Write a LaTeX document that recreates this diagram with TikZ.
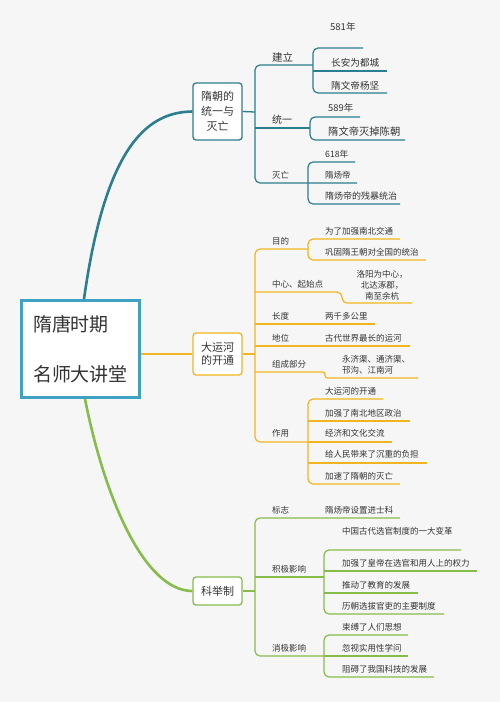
\documentclass[tikz,border=0pt]{standalone}
\usepackage{fontspec}
\setmainfont{Noto Sans CJK SC}
\usepackage{xcolor}

\definecolor{suiteal}{HTML}{2B7E8E}
\definecolor{rootblue}{HTML}{3FA2C2}
\definecolor{canalyel}{HTML}{F2B51E}
\definecolor{examgrn}{HTML}{86BC4A}
\definecolor{txtgray}{HTML}{333333}
\definecolor{bggray}{HTML}{F6F6F6}

\begin{document}
\begin{tikzpicture}[
    x=1pt, y=1pt, yscale=-1, xscale=1,
    every node/.style={inner sep=0pt, text=txtgray},
    lbl/.style={font=\fontsize{8.5}{11}\selectfont, anchor=west},
    secbox/.style={draw, line width=1.3, fill=white, rounded corners=3,
                   minimum width=49, align=center},
    twig/.style={line width=1.2, rounded corners=5}
]

\fill[bggray] (0,0) rectangle (500,702) ;
\useasboundingbox (0,0) rectangle (500,702) ;

%==================== Root ====================
\node [draw=rootblue, line width=3, fill=white, minimum width=118, minimum height=97,
       inner xsep=11.5, text width=95, align=left,
       font=\fontsize{19}{25}\selectfont] (root) at (80.5,349) {隋唐时期\\[25pt]名师大讲堂};

%==================== Section boxes ====================
\node [secbox, draw=suiteal, minimum height=57, font=\fontsize{11}{15}\selectfont]
      (sui) at (217.5,111.5) {隋朝的\\统一与\\灭亡};
\node [secbox, draw=canalyel, minimum height=42, font=\fontsize{11}{13.5}\selectfont]
      (canal) at (217.5,354) {大运河\\的开通};
\node [secbox, draw=examgrn, minimum height=28, font=\fontsize{11}{13}\selectfont]
      (keju) at (217.5,591) {科举制};

% main branches
\draw [suiteal, line width=2.6] ([xshift=3.5pt]root.north) .. controls (105,150) and (145,112) .. (sui.west) ;
\draw [canalyel, line width=2.8] (canal.west -| root.east) -- (canal.west) ;
\draw [examgrn, line width=2.6] ([xshift=4.5pt]root.south) .. controls (105,500) and (145,591) .. (keju.west) ;

%==================== Sui: rise and fall ====================
\draw [suiteal, line width=1.3] (sui.east) -- (255,112) ;
\draw [suiteal, twig] (313,65) -- (255,65) -- (255,183) -- (357,183) ;
\draw [suiteal, twig] (255,128) -- (310,128) ;
% jianli
\draw [suiteal, twig] (363,48) -- (313,48) -- (313,93) -- (387,93) ;
\draw [suiteal, twig] (313,71) -- (387,71) ;
% tongyi
\draw [suiteal, twig] (360,117) -- (310,117) -- (310,140) -- (405,140) ;
% miewang
\draw [suiteal, twig] (355,162) -- (308,162) -- (308,204) -- (400,204) ;

\node [lbl, font=\fontsize{10.5}{12}\selectfont] (jianli)  at (272,57)  {建立};
\node [lbl, font=\fontsize{10}{12}\selectfont]   (tongyi)  at (272,120) {统一};
\node [lbl]                                      (miewang) at (272,175) {灭亡};
\node [lbl, font=\fontsize{9.5}{11}\selectfont]  (y581)    at (330,27)  {581年};
\node [lbl, font=\fontsize{9.6}{11}\selectfont]  (capital) at (331,63)  {长安为都城};
\node [lbl, font=\fontsize{9.6}{11}\selectfont]  (yangjian) at (331,86) {隋文帝杨坚};
\node [lbl, font=\fontsize{9.4}{11}\selectfont]  (y589)    at (328,108) {589年};
\node [lbl, font=\fontsize{10.3}{12}\selectfont] (chen)    at (328,132) {隋文帝灭掉陈朝};
\node [lbl, font=\fontsize{8.7}{10}\selectfont]  (y618)    at (325,154) {618年};
\node [lbl]                                      (yangdi)  at (325,175) {隋炀帝};
\node [lbl, font=\fontsize{9}{11}\selectfont]    (tyranny) at (325,196) {隋炀帝的残暴统治};

%==================== Grand Canal ====================
\draw [canalyel, line width=1.3] (canal.east) -- (255,354) ;
\draw [canalyel, twig] (308,249) -- (255,249) -- (255,442) -- (308,442) ;
% mudi
\draw [canalyel, twig] (400,239) -- (308,239) -- (308,260) -- (426,260) ;
% zhongxin
\draw [canalyel, twig] (255,292) -- (342,292) -- (342,303) -- (412,303) ;
% changdu, diwei
\draw [canalyel, twig] (255,324) -- (375,324) ;
\draw [canalyel, twig] (255,346) -- (410,346) ;
% zucheng
\draw [canalyel, twig, rounded corners=2.5] (255,372) -- (325,372) -- (325,378) -- (418,378) ;
% zuoyong
\draw [canalyel, twig] (383,399) -- (308,399) -- (308,484) -- (400,484) ;
\draw [canalyel, twig] (308,421) -- (410,421) ;
\draw [canalyel, twig] (308,442) -- (392,442) ;
\draw [canalyel, twig] (308,463) -- (427,463) ;

\node [lbl] (mudi)     at (272,241) {目的};
\node [lbl] (traffic)  at (325,231) {为了加强南北交通};
\node [lbl] (rule)     at (325,252) {巩固隋王朝对全国的统治};
\node [lbl] (zhongxin) at (272,284) {中心、起始点};
\node [lbl, anchor=center, align=center] (luoyang) at (382,285) {洛阳为中心，\\北达涿郡，\\南至余杭};
\node [lbl] (changdu)  at (272,316) {长度};
\node [lbl] (length)   at (325,316) {两千多公里};
\node [lbl] (diwei)    at (272,338) {地位};
\node [lbl] (longest)  at (325,338) {古代世界最长的运河};
\node [lbl] (zucheng)  at (272,364) {组成部分};
\node [lbl, align=left] (qu) at (342,364.5) {永济渠、通济渠、\\邗沟、江南河};
\node [lbl] (zuoyong)  at (272,433) {作用};
\node [lbl] (opened)   at (325,391) {大运河的开通};
\node [lbl] (politics) at (325,413) {加强了南北地区政治};
\node [lbl] (economy)  at (325,433) {经济和文化交流};
\node [lbl] (burden)   at (325,454) {给人民带来了沉重的负担};
\node [lbl] (fall)     at (325,476) {加速了隋朝的灭亡};

%==================== Imperial exams ====================
\draw [examgrn, line width=1.3] (keju.east) -- (255,591) ;
\draw [examgrn, twig] (400,518) -- (255,518) -- (255,656) -- (324,656) ;
\draw [examgrn, twig] (255,577) -- (324,577) ;
% jiji
\draw [examgrn, twig] (461,550) -- (324,550) -- (324,614) -- (444,614) ;
\draw [examgrn, twig] (324,571) -- (477,571) ;
\draw [examgrn, twig] (324,593) -- (418,593) ;
% xiaoji
\draw [examgrn, twig] (408,635) -- (324,635) -- (324,677) -- (434,677) ;
\draw [examgrn, twig] (324,656) -- (408,656) ;

\node [lbl] (biaozhi)  at (272,510) {标志};
\node [lbl] (jinshi)   at (325,510) {隋炀帝设置进士科};
\node [lbl] (jiji)     at (272,569) {积极影响};
\node [lbl] (reform)   at (342,531) {中国古代选官制度的一大变革};
\node [lbl] (power)    at (342,563) {加强了皇帝在选官和用人上的权力};
\node [lbl] (edu)      at (342,585) {推动了教育的发展};
\node [lbl] (main)     at (342,606) {历朝选拔官吏的主要制度};
\node [lbl] (xiaoji)   at (272,648) {消极影响};
\node [lbl] (bind)     at (342,627) {束缚了人们思想};
\node [lbl] (ignore)   at (342,648) {忽视实用性学问};
\node [lbl] (hinder)   at (342,669) {阻碍了我国科技的发展};

\end{tikzpicture}
\end{document}
